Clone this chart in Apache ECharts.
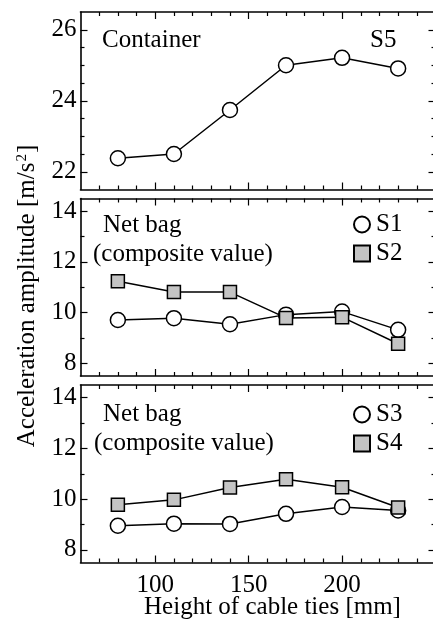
<!DOCTYPE html>
<html>
<head>
<meta charset="utf-8">
<script src="https://cdn.jsdelivr.net/npm/echarts@6/dist/echarts.min.js"></script>
<style>
html,body{margin:0;padding:0;overflow:hidden;background:#fff;}
#chart{width:437px;height:631px;}
</style>
</head>
<body>
<div id="chart"></div>
<script>
// ---- data ----
const heights = [80, 110, 140, 170, 200, 230];
const S5 = [22.38, 22.50, 23.74, 25.00, 25.21, 24.91];
const S1 = [9.71, 9.78, 9.54, 9.92, 10.04, 9.32];
const S2 = [11.24, 10.81, 10.81, 9.79, 9.82, 8.77];
const S3 = [8.95, 9.03, 9.02, 9.42, 9.69, 9.55];
const S4 = [9.78, 9.97, 10.46, 10.78, 10.47, 9.67];
const xMajorTicks = [100, 150, 200];
const xMinorTicks = [70, 80, 90, 110, 120, 130, 140, 160, 170, 180, 190, 210, 220, 230, 240];
const yMajorTop = [22, 24, 26];
const yMinorTop = [22.5, 23, 23.5, 24.5, 25, 25.5];
const yMajorNet = [8, 10, 12, 14];
const yMinorNet = [9, 11, 13];

const FONT = 'Liberation Serif';
const grids = [
  {top: 12, yMin: 21.5, yMax: 26.5, major: yMajorTop, minor: yMinorTop},
  {top: 198.5, yMin: 7.5, yMax: 14.5, major: yMajorNet, minor: yMinorNet},
  {top: 385, yMin: 7.5, yMax: 14.5, major: yMajorNet, minor: yMinorNet}
];
const gridOpt = [], xAxes = [], yAxes = [];
grids.forEach((g, gi) => {
  gridOpt.push({left: 80.5, right: 1.5, top: g.top, height: 177.5});
  const lastGrid = gi === 2;
  [['bottom', true], ['top', true], ['bottom', false], ['top', false]].forEach(([pos, major]) => {
    xAxes.push({
      type: 'value', gridIndex: gi, position: pos, min: 60, max: 250,
      axisLine: {show: major, onZero: false, lineStyle: {color: '#000', width: 1.6}},
      axisTick: {show: true, inside: true, length: major ? 7 : 4,
        customValues: major ? xMajorTicks : xMinorTicks,
        lineStyle: {color: '#000', width: 1.2}},
      axisLabel: {show: lastGrid && major && pos === 'bottom', customValues: xMajorTicks,
        fontFamily: FONT, fontSize: 25, color: '#000', margin: 10},
      splitLine: {show: false}
    });
  });
  [['left', true], ['right', true], ['left', false], ['right', false]].forEach(([pos, major]) => {
    yAxes.push({
      type: 'value', gridIndex: gi, position: pos, min: g.yMin, max: g.yMax,
      axisLine: {show: major, onZero: false, lineStyle: {color: '#000', width: 1.6}},
      axisTick: {show: true, inside: true, length: major ? 7 : 4,
        customValues: major ? g.major : g.minor,
        lineStyle: {color: '#000', width: 1.2}},
      axisLabel: {show: major && pos === 'left', customValues: g.major,
        fontFamily: FONT, fontSize: 25, color: '#000', margin: 4},
      splitLine: {show: false}
    });
  });
});

function mk(name, values, gi, shape) {
  const circle = shape === 'circle';
  return {
    name: name, type: 'line', xAxisIndex: gi * 4, yAxisIndex: gi * 4,
    data: heights.map((h, i) => [h, values[i]]),
    symbol: circle ? 'circle' : 'rect', symbolSize: circle ? 15 : 13,
    lineStyle: {color: '#000', width: 1.5},
    itemStyle: {color: circle ? '#fff' : '#c4c4c4', borderColor: '#000', borderWidth: 1.5, opacity: 1},
    emphasis: {disabled: true}, animation: false
  };
}

const legendCommon = {
  orient: 'vertical', left: 353, padding: 0, itemGap: 4, itemWidth: 16, itemHeight: 16,
  textStyle: {fontFamily: FONT, fontSize: 25, color: '#000', padding: [0, 0, 0, 1]},
  selectedMode: false
};

function txt(x, y, s) {
  return {type: 'text', x: x, y: y,
    style: {text: s, font: '25px "' + FONT + '"', fill: '#000', textAlign: 'left', textVerticalAlign: 'middle'}};
}

const chart = echarts.init(document.getElementById('chart'));
chart.setOption({
  animation: false,
  grid: gridOpt,
  xAxis: xAxes,
  yAxis: yAxes,
  legend: [
    Object.assign({}, legendCommon, {top: 212, data: [{name: 'S1', icon: 'circle'}, {name: 'S2', icon: 'rect'}]}),
    Object.assign({}, legendCommon, {top: 402, data: [{name: 'S3', icon: 'circle'}, {name: 'S4', icon: 'rect'}]})
  ],
  series: [
    mk('S5', S5, 0, 'circle'),
    mk('S1', S1, 1, 'circle'),
    mk('S2', S2, 1, 'rect'),
    mk('S3', S3, 2, 'circle'),
    mk('S4', S4, 2, 'rect')
  ],
  graphic: [
    txt(102, 40, 'Container'),
    txt(370, 40, 'S5'),
    txt(103, 225, 'Net bag'),
    txt(93, 254.5, '(composite value)'),
    txt(103, 414.5, 'Net bag'),
    txt(94, 443.5, '(composite value)'),
    {type: 'text', x: 272.5, y: 607, style: {text: 'Height of cable ties [mm]', font: '25px "' + FONT + '"', fill: '#000', textAlign: 'center', textVerticalAlign: 'middle'}},
    {type: 'text', x: 27, y: 296, rotation: Math.PI / 2,
      style: {text: 'Acceleration amplitude [m/s{sup|2}]', fill: '#000', fontFamily: FONT, fontSize: 25,
        textAlign: 'center', textVerticalAlign: 'middle',
        rich: {sup: {fontFamily: FONT, fontSize: 15, verticalAlign: 'top', lineHeight: 25, padding: [0, 1, 10, 1]}}}}
  ]
});
</script>
</body>
</html>
